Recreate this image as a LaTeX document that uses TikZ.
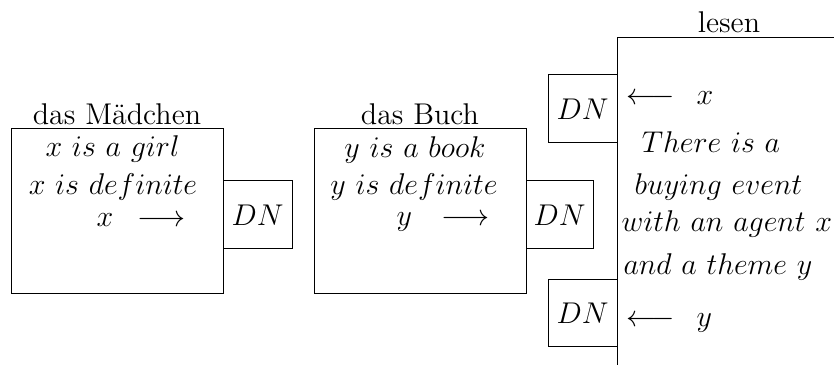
\documentclass[tikz,border=0pt]{standalone}
\begin{document}
\begin{tikzpicture}[x=0.4pt,y=-0.4pt,
  every node/.style={font=\fontsize{12}{14}\selectfont},
  frame/.style={draw, line width=0.4pt, inner sep=0pt},
  dnbox/.style={draw, line width=0.4pt, inner sep=0pt, minimum width=27.6pt, minimum height=27.2pt},
  txt/.style={inner sep=0pt, anchor=base},
  txtw/.style={inner sep=0pt, anchor=base west},
  edge/.style={line width=0.4pt}
]
\useasboundingbox (0,0) rectangle (834,365);
% left box: das Maedchen
\node[frame, minimum width=84.4pt, minimum height=66pt] (m) at (117.5,211.5) {};
\node[dnbox] (dn1) at (257.5,215) {$DN$};
\node[txt] (ml) at (117,125) {das Mädchen};
\node[txt] (m1) at (112.5,157) {$x\ is\ a\ girl$};
\node[txt] (m2) at (113,195) {$x\ is\ definite$};
\node[txtw] (m3) at (96,227) {$x$};
\node[txtw] (m3a) at (137,227) {$\longrightarrow$};
% middle box: das Buch
\node[frame, minimum width=84.8pt, minimum height=66pt] (b) at (420,211.5) {};
\node[dnbox, minimum width=26.8pt] (dn2) at (559.5,215) {$DN$};
\node[txt] (bl) at (420,125) {das Buch};
\node[txt] (b1) at (415,158) {$y\ is\ a\ book$};
\node[txt] (b2) at (414,195) {$y\ is\ definite$};
\node[txtw] (b3) at (396,226) {$y$};
\node[txtw] (b3a) at (441,226) {$\longrightarrow$};
% right box: lesen
\coordinate (ltr) at (834,38);
\coordinate (ltl) at (617,38);
\coordinate (lbl) at (617,365);
\draw[edge] (ltr) -- (ltl) -- (lbl);
\node[txt] (ll) at (729,33) {lesen};
\node[dnbox] (dn3) at (582.5,109) {$DN$};
\node[dnbox, minimum height=26.8pt] (dn4) at (582.5,313.5) {$DN$};
\node[txtw] (l1a) at (626,105) {$\longleftarrow$};
\node[txtw] (l1) at (696,105) {$x$};
\node[txt] (l2) at (711,153) {$There\ is\ a$};
\node[txt] (l3) at (718.5,195) {$buying\ event$};
\node[txtw] (l4) at (621,232) {$with\ an\ agent\ x$};
\node[txtw] (l5) at (623,275) {$and\ a\ theme\ y$};
\node[txtw] (l6a) at (626,327) {$\longleftarrow$};
\node[txtw] (l6) at (696,327) {$y$};
\end{tikzpicture}
\end{document}
